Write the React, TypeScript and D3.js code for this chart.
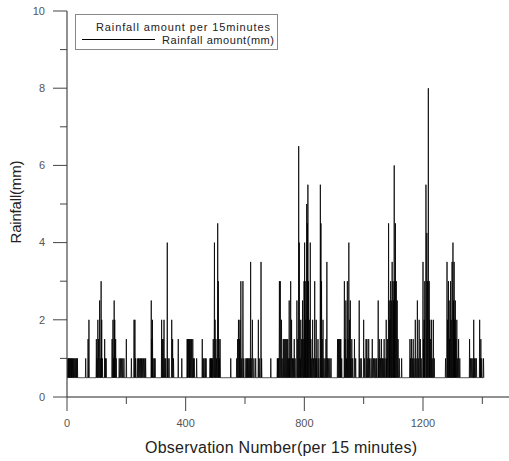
import React from "react";
import * as d3 from "d3";

// observation index where the rainfall is above the 0.5 mm floor, and its amount
const spikeObs = [
  3, 5, 7, 9, 12, 14, 16, 19, 21, 24, 27, 30, 33, 35, 63, 71, 74,
  99, 101, 104, 106, 110, 112, 115, 117, 119, 127, 129, 132,
  152, 155, 157, 159, 161, 164, 166, 176, 180, 184, 188, 192, 200, 217, 226, 229, 231,
  237, 241, 244, 248, 251, 254, 258, 262, 265, 284, 286, 288, 290, 294, 297,
  319, 321, 324, 327, 330, 333, 338, 340, 344, 353, 356, 359, 375, 387,
  405, 407, 409, 410, 412, 414, 417, 420, 424, 426, 429, 437, 456, 459, 462, 466, 469,
  482, 484, 486, 488, 490, 493, 497, 499, 502, 504, 508, 510, 512, 514, 516,
  552, 572, 575, 578, 581, 583, 586, 589, 593, 596,
  603, 606, 608, 611, 614, 617, 619, 621, 625, 630, 636, 645, 648, 654, 656, 687,
  709, 711, 713, 716, 719, 723, 725, 729, 732, 735, 738, 741, 744, 746, 749, 751, 754, 757, 760, 763, 766, 769,
  775, 778, 781, 783, 786, 788, 791, 794, 796, 799, 801, 803, 805, 808, 810, 812, 814, 817, 820, 822, 825, 828,
  831, 835, 837, 840, 842, 846, 849, 854, 856, 858, 860, 863, 866, 870, 873, 876, 878, 882, 886, 890,
  912, 915, 918, 921, 923, 926, 935, 937, 940, 942, 945, 947, 950, 952, 955, 957, 960, 963, 969, 973,
  985, 988, 992, 1000, 1003, 1008, 1011, 1014, 1017, 1020, 1025, 1029, 1033, 1037, 1041, 1044, 1049, 1051, 1054, 1057, 1060,
  1063, 1066, 1069, 1072, 1076, 1078, 1080, 1084, 1086, 1088, 1091, 1093, 1096, 1099, 1101, 1103, 1105, 1107, 1110, 1113, 1116, 1120, 1128,
  1156, 1158, 1161, 1164, 1167, 1170, 1174, 1177, 1181, 1184, 1187, 1191, 1194, 1200, 1202, 1204, 1206, 1210, 1213, 1215, 1218, 1221, 1223, 1226, 1229, 1231, 1235, 1238,
  1276, 1281, 1283, 1286, 1288, 1290, 1293, 1295, 1298, 1301, 1303, 1305, 1307, 1309, 1311, 1314, 1317, 1320, 1324,
  1357, 1360, 1364, 1368, 1371, 1373, 1376, 1380, 1391, 1393, 1395, 1398, 1404,
];
const spikeMm = [
  1, 1, 1, 1, 1, 1, 1, 1, 1, 1, 1, 1, 1, 1, 1, 1.5, 2,
  1.5, 1, 2, 1.5, 2.5, 1, 3, 2, 1, 1.5, 1, 1,
  1.5, 2, 1, 2.5, 2, 1.5, 1, 1, 1, 1, 1, 1, 1.5, 1, 2, 2, 1,
  1, 1, 1, 1, 1, 1, 1, 1, 1, 2.5, 1.5, 2, 1, 1, 1,
  2, 1.5, 1.5, 2, 1, 1, 4, 1, 1, 2, 1.5, 1, 1.5, 1,
  1.5, 1.5, 1.5, 1, 1.5, 1.5, 1.5, 1.5, 1.5, 1, 1, 1, 1.5, 1, 1, 1, 1,
  1, 1, 1, 1, 1, 1.5, 4, 2, 1.5, 1, 4.5, 3, 1.5, 1, 1.5,
  1, 1, 1.5, 2, 1.5, 2, 3, 1, 3, 1,
  1, 1, 1, 1, 1, 1, 3.5, 1, 2, 1, 1, 2, 1, 3.5, 1, 1,
  1, 1, 1, 3, 3, 2, 1, 1.5, 1.5, 1.5, 1.5, 1.5, 1.5, 1, 2.5, 1, 3, 2, 1, 1, 1.5, 1,
  2.5, 1.5, 6.5, 4, 1, 2, 1.5, 2.5, 1.5, 3, 4, 3, 2, 5, 4.5, 5.5, 3, 2, 4, 1.5, 1, 2,
  1, 3, 1, 2, 1, 1.5, 1, 5.5, 4.5, 3, 1.5, 2, 1, 1, 1.5, 3.5, 1, 1, 1, 1,
  1.5, 1.5, 1.5, 1.5, 1.5, 1, 3, 1.5, 2.5, 1, 3, 1.5, 4, 2, 2.5, 1, 1.5, 1, 1.5, 1,
  2.5, 1, 1, 2, 1, 1.5, 1.5, 1, 1.5, 1, 1, 1.5, 1, 1, 1, 1, 2.5, 1, 1.5, 1, 1.5,
  1, 1, 1.5, 1, 2, 1, 1.5, 4.5, 2.5, 2, 3, 2.5, 3.5, 3, 2.5, 6, 3, 4.5, 3, 2.5, 1.5, 1, 1,
  1.5, 1, 1.5, 1, 1.5, 1, 2, 1, 2.5, 1, 2, 1.5, 1, 3.5, 1.5, 2, 3, 5.5, 4.25, 3, 8, 3, 2, 1.5, 2, 1, 2, 1,
  1, 3.5, 2, 3, 2.5, 1.5, 3, 2, 3.5, 4, 2.5, 3.5, 2, 2.5, 1.5, 2, 1, 1.5, 1,
  1.5, 1, 1, 1, 2, 1, 1, 1, 2, 1, 1.5, 1, 1,
];
const floorMm = 0.5;
const lastObs = 1406;

const yTicks = [0, 2, 4, 6, 8, 10];
const yMinor = [1, 3, 5, 7, 9];
const xTicks = [0, 400, 800, 1200];
const xMinor = [200, 600, 1000, 1400];

const W = 509;
const H = 461;
const font = "'Liberation Sans', Arial, sans-serif";

export default function App() {
  const x = d3.scaleLinear().domain([0, 1500]).range([67, 512]);
  const y = d3.scaleLinear().domain([0, 10]).range([397, 11]);

  const byObs = new Map(spikeObs.map((o, i) => [o, spikeMm[i]]));
  const series = d3.range(0, lastObs).map((o) => ({ o, v: byObs.get(o) ?? floorMm }));

  const line = d3
    .line<{ o: number; v: number }>()
    .x((d) => x(d.o))
    .y((d) => y(d.v));

  return (
    <div style={{ position: "fixed", left: 0, top: 0 }}>
      <svg width={W} height={H} style={{ display: "block", background: "#fff" }}>
        <path d={line(series) ?? ""} fill="none" stroke="#000" strokeWidth={0.8} />

        {/* y axis */}
        <line x1={67} x2={67} y1={y(10)} y2={y(0)} stroke="#222" />
        {yTicks.map((t) => (
          <g key={t}>
            <line x1={53} x2={67} y1={y(t)} y2={y(t)} stroke="#444" />
            <text x={45} y={y(t)} dy="0.35em" textAnchor="end" fontSize={11} fill="#555" fontFamily={font}>
              {t}
            </text>
          </g>
        ))}
        {yMinor.map((t) => (
          <line key={t} x1={60} x2={67} y1={y(t)} y2={y(t)} stroke="#444" />
        ))}

        {/* x axis */}
        <line x1={67} x2={W} y1={y(0)} y2={y(0)} stroke="#222" />
        {xTicks.map((t) => (
          <g key={t}>
            <line x1={x(t)} x2={x(t)} y1={y(0)} y2={y(0) + 14} stroke="#444" />
            <text x={x(t)} y={427} textAnchor="middle" fontSize={11} fill="#555" fontFamily={font}>
              {t}
            </text>
          </g>
        ))}
        {xMinor.map((t) => (
          <line key={t} x1={x(t)} x2={x(t)} y1={y(0)} y2={y(0) + 7} stroke="#444" />
        ))}

        <text x={281} y={453} textAnchor="middle" fontSize={16} fill="#222" fontFamily={font}
          textLength={272} lengthAdjust="spacing">
          Observation Number(per 15 minutes)
        </text>
        <text transform="translate(21,202) rotate(-90)" textAnchor="middle" fontSize={15} fill="#222" fontFamily={font}
          textLength={83} lengthAdjust="spacing">
          Rainfall(mm)
        </text>

        {/* legend */}
        <rect x={75.5} y={14.5} width={202} height={35} fill="#fff" stroke="#888" />
        <text x={96} y={31} fontSize={11} fill="#222" fontFamily={font} textLength={174} lengthAdjust="spacing">
          Rainfall amount per 15minutes
        </text>
        <line x1={82} x2={155} y1={39.5} y2={39.5} stroke="#000" />
        <text x={162} y={44} fontSize={11} fill="#222" fontFamily={font} textLength={112} lengthAdjust="spacing">
          Rainfall amount(mm)
        </text>
      </svg>
    </div>
  );
}
